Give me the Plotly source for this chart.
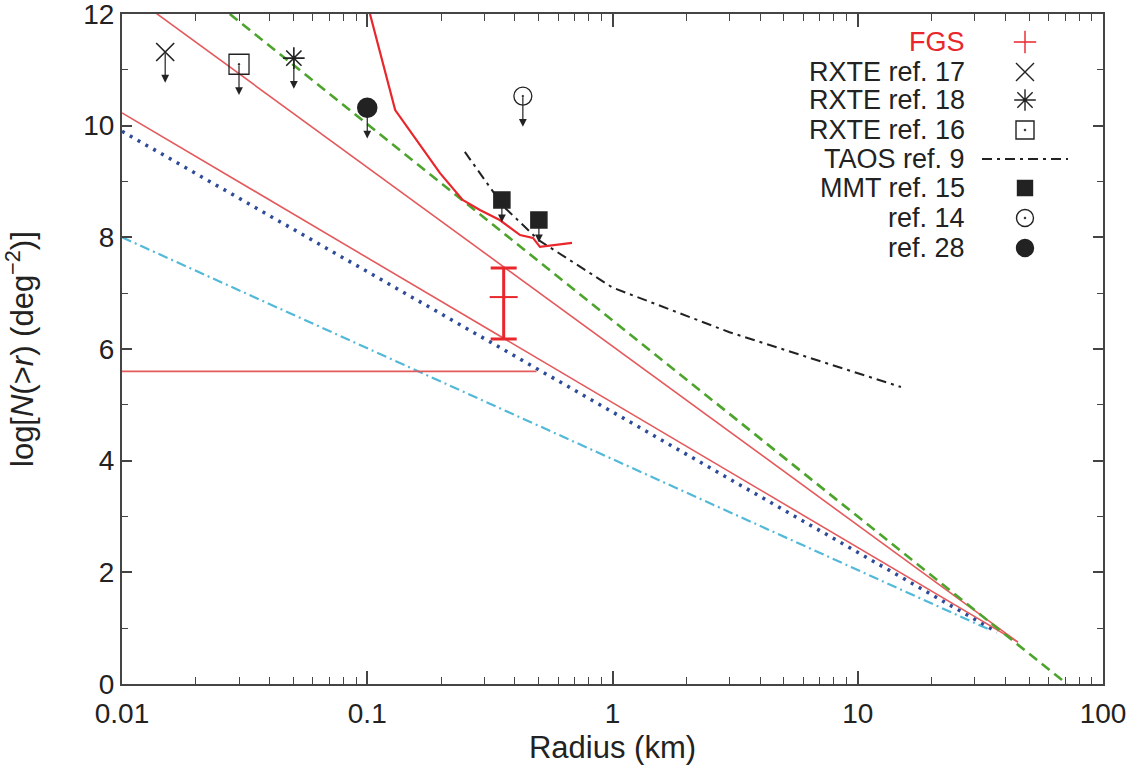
import numpy as np
import plotly.graph_objects as go

# ---------------- data ----------------
# straight model lines (radius km, log N)
red1_x = [0.01, 45.0]
red1_y = [12.46, 0.75]
red2_x = [0.01, 45.0]
red2_y = [10.23, 0.75]
blue_x = [0.01, 37.0]
blue_y = [9.9, 0.93]
cyan_x = [0.01, 34.6]
cyan_y = [8.0, 0.97]
green_x = [0.0275, 71.3]
green_y = [12.0, 0.0]
hline_x = [0.01, 0.49]
hline_y = [5.6, 5.6]

# FGS detection curve
fgs_curve_x = [0.1026, 0.130, 0.198, 0.245, 0.288, 0.347, 0.420, 0.474, 0.506, 0.571, 0.684]
fgs_curve_y = [12.0, 10.28, 9.15, 8.67, 8.49, 8.31, 8.04, 7.99, 7.83, 7.86, 7.90]

# FGS point with error bar
fgs_x = [0.36]
fgs_y = [6.93]
fgs_err_up = [0.52]
fgs_err_down = [0.75]

# TAOS ref. 9
taos_x = [0.25, 0.36, 0.5, 1.0, 3.0, 15.0]
taos_y = [9.53, 8.55, 7.95, 7.10, 6.30, 5.32]

# upper limits
rxte17_x, rxte17_y = [0.015], [11.32]
rxte18_x, rxte18_y = [0.0502], [11.21]
rxte16_x, rxte16_y = [0.030], [11.10]
ref28_x, ref28_y = [0.1], [10.32]
ref14_x, ref14_y = [0.431], [10.53]
mmt_x, mmt_y = [0.354, 0.501], [8.67, 8.31]

x_tickvals = [0.01, 0.1, 1, 10, 100]
x_ticktext = ["0.01", "0.1", "1", "10", "100"]

legend_labels = ["FGS", "RXTE ref. 17", "RXTE ref. 18", "RXTE ref. 16",
                 "TAOS ref. 9", "MMT ref. 15", "ref. 14", "ref. 28"]
legend_rows = [42, 72, 100, 130, 159, 188, 218, 248]
legend_colors = ["#e8262b", "#222", "#222", "#222", "#222", "#222", "#222", "#222"]

FONT = "Liberation Sans, Arial, Helvetica, sans-serif"
RED = "#e8262b"
THINRED = "#e45a5c"
DARK = "#222222"

fig = go.Figure()

def line(x, y, color, width, dash="solid", opacity=1.0):
    fig.add_trace(go.Scatter(x=x, y=y, mode="lines", opacity=opacity,
                             line=dict(color=color, width=width, dash=dash),
                             showlegend=False, hoverinfo="skip"))

line(cyan_x, cyan_y, "#52b9d8", 2.2, "10px,4px,2px,4px")
line(blue_x, blue_y, "#2d4b98", 3.5, "3px,6px")
line(red2_x, red2_y, THINRED, 1.6)
line(red1_x, red1_y, THINRED, 1.6)
line(hline_x, hline_y, THINRED, 1.8)
line(green_x, green_y, "#4da42c", 2.6, "10px,6px")
line(taos_x, taos_y, DARK, 2.0, "10px,5px,3px,5px")
line(fgs_curve_x, fgs_curve_y, RED, 2.2)

# FGS point with error bar
fig.add_trace(go.Scatter(x=fgs_x, y=fgs_y, mode="markers",
                         marker=dict(symbol="line-ew", size=20, line=dict(color=RED, width=2)),
                         error_y=dict(type="data", array=fgs_err_up, arrayminus=fgs_err_down,
                                      color=RED, thickness=3, width=13),
                         showlegend=False, hoverinfo="skip"))

def pts(x, y, symbol, size, lw=1.5):
    marker = dict(symbol=symbol, size=size, color=DARK, line=dict(color=DARK, width=lw))
    fig.add_trace(go.Scatter(x=x, y=y, mode="markers", marker=marker,
                             showlegend=False, hoverinfo="skip"))

pts(rxte17_x, rxte17_y, "x-thin", 18, lw=1.6)
pts(rxte18_x, rxte18_y, "asterisk", 18, lw=1.6)
pts(rxte16_x, rxte16_y, "square-open-dot", 20, lw=1.3)
pts(ref28_x, ref28_y, "circle", 19)
pts(ref14_x, ref14_y, "circle-open-dot", 18, lw=1.3)
pts(mmt_x, mmt_y, "square", 16)

# downward arrows for upper limits
annotations = []
def arrows(xs, ys, length_units, tail_px):
    for xv, yv in zip(xs, ys):
        annotations.append(dict(x=np.log10(xv), y=yv - length_units, xref="x", yref="y",
                                ax=0, ay=-tail_px, showarrow=True, arrowhead=2,
                                arrowsize=1.3, arrowwidth=1.2, arrowcolor=DARK, text=""))

arrows(rxte17_x, rxte17_y, 0.55, 31)
arrows(rxte18_x, rxte18_y, 0.55, 31)
arrows(rxte16_x, rxte16_y, 0.55, 31)
arrows(ref28_x, ref28_y, 0.55, 31)
arrows(ref14_x, ref14_y, 0.55, 31)
arrows(mmt_x, mmt_y, 0.40, 22)

# ---------------- custom legend (pixel-like overlay axes) ----------------
leg_sym = ["cross-thin", "x-thin", "asterisk", "square-open-dot", None, "square", "circle-open-dot", "circle"]
leg_size = [16, 18, 18, 18, 0, 15, 17, 17]
for lab, row, col, sym, sz in zip(legend_labels, legend_rows, legend_colors, leg_sym, leg_size):
    annotations.append(dict(x=967, y=row, xref="x2", yref="y2", text=lab, showarrow=False,
                            xanchor="right", yanchor="middle",
                            font=dict(family=FONT, size=27, color=col)))
    if sym is None:
        fig.add_trace(go.Scatter(x=[982, 1068], y=[row, row], mode="lines", xaxis="x2", yaxis="y2",
                                 line=dict(color=DARK, width=2, dash="10px,5px,3px,5px"),
                                 showlegend=False, hoverinfo="skip"))
    else:
        c = RED if lab == "FGS" else DARK
        fig.add_trace(go.Scatter(x=[1025], y=[row], mode="markers", xaxis="x2", yaxis="y2",
                                 marker=dict(symbol=sym, size=sz, color=c, line=dict(color=c, width=1.4)),
                                 showlegend=False, hoverinfo="skip"))

# y-axis title as a rotated annotation (placed in the left margin)
annotations.append(dict(text="log[<i>N</i>(&gt;<i>r</i>) (deg<sup>−2</sup>)]", textangle=-90,
                        xref="paper", yref="paper", x=0, y=0.5, xanchor="center", yanchor="middle",
                        xshift=-102, showarrow=False,
                        font=dict(family=FONT, size=31, color="#222")))

minor_x = [m * 10.0 ** k for k in range(-2, 2) for m in range(2, 10)]

axis_common = dict(showline=True, linecolor="#444", linewidth=2, mirror="allticks",
                   ticks="inside", tickcolor="#444", tickwidth=1.5, showgrid=False, zeroline=False,
                   automargin=False, ticklabeloverflow="allow",
                   tickfont=dict(family=FONT, size=28, color="#222"))

fig.update_layout(
    width=1141, height=780,
    margin=dict(l=122, r=38, t=14, b=96),
    paper_bgcolor="white", plot_bgcolor="white",
    font=dict(family=FONT, color="#222"),
    xaxis=dict(type="log", range=[-2, 2], tickmode="array", tickvals=x_tickvals, ticktext=x_ticktext,
               ticklen=13, ticklabelstandoff=3,
               minor=dict(tickmode="array", tickvals=minor_x, ticks="inside", ticklen=7,
                          tickcolor="#444", tickwidth=1.3),
               title=dict(text="Radius (km)", font=dict(family=FONT, size=31, color="#222"), standoff=9),
               **axis_common),
    yaxis=dict(range=[0, 12], dtick=2, ticklen=10,
               minor=dict(dtick=1, ticks="inside", ticklen=6, tickcolor="#444", tickwidth=1.3),
               **axis_common),
    xaxis2=dict(overlaying="x", anchor="y2", range=[122, 1103], visible=False),
    yaxis2=dict(overlaying="y", anchor="x2", range=[684, 14], visible=False),
    annotations=annotations,
)

# remove the default page margin so the figure fills the window exactly
fig.write_html("out.html", config={"displayModeBar": False},
               post_script="document.body.style.margin='0';")
